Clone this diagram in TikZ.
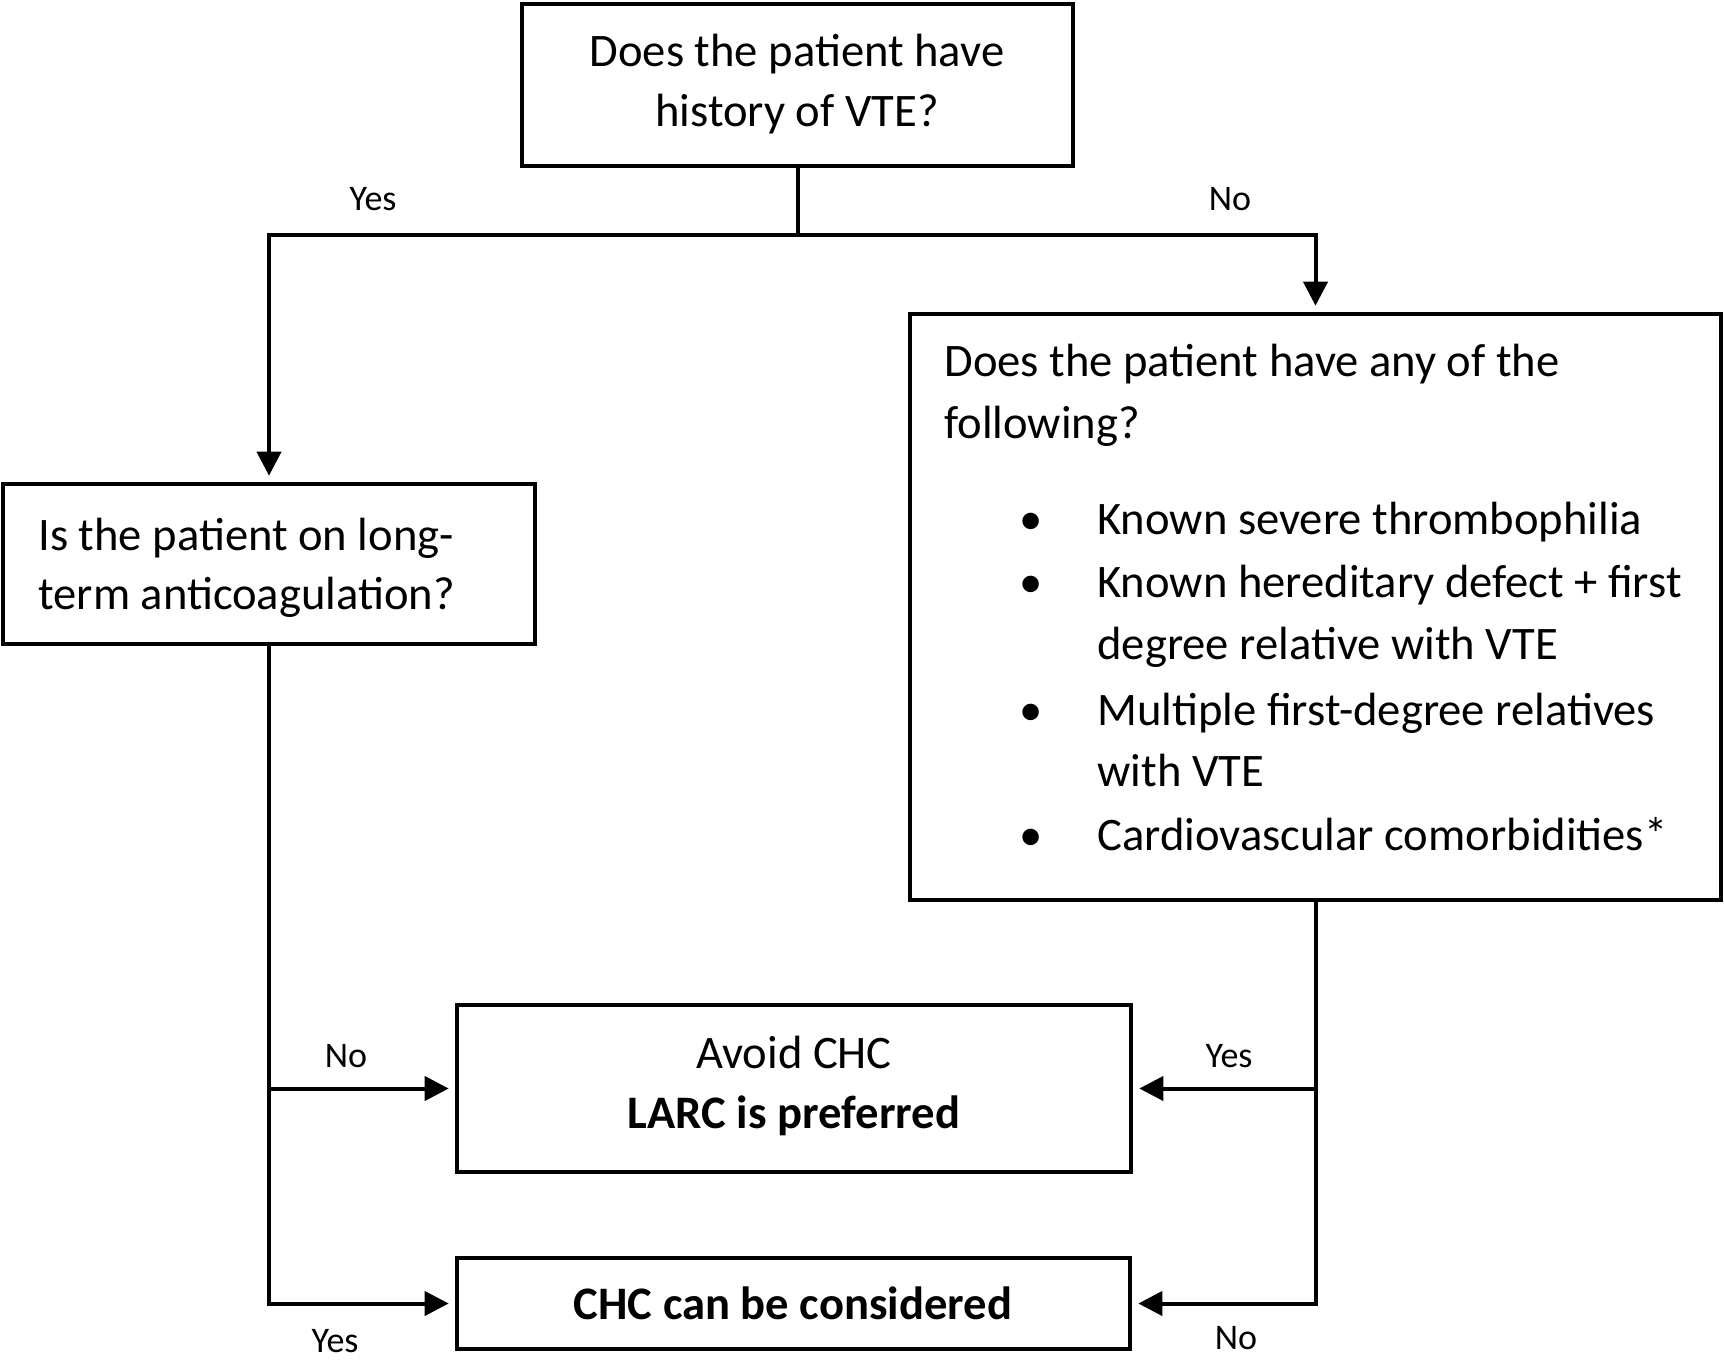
\documentclass[tikz,border=0pt]{standalone}
\usepackage{fontspec}
\setmainfont{Carlito}
\usetikzlibrary{arrows.meta}
\begin{document}
\begin{tikzpicture}[x=0.5pt,y=-0.5pt,
  box/.style={draw, line width=2.3pt, inner sep=0pt, fill=white},
  conn/.style={line width=2pt},
  arr/.style={conn, shorten >=3pt, -{Triangle[length=12pt,width=12pt]}},
  txt/.style={font=\fontsize{23.3}{30}\selectfont, inner sep=0pt, anchor=base},
  txtl/.style={txt, anchor=base west},
  lbl/.style={font=\fontsize{18}{22}\selectfont, inner sep=0pt, anchor=base},
]
\useasboundingbox (0,0) rectangle (1724,1360);
\fill[white] (0,0) rectangle (1724,1360);

% boxes
\node[box, minimum width=275.5pt, minimum height=81pt] (top) at (797.5,85) {};
\node[box, minimum width=266pt, minimum height=80pt] (lbox) at (269,564) {};
\node[box, minimum width=405.5pt, minimum height=293pt] (rbox) at (1315.5,607) {};
\node[box, minimum width=337pt, minimum height=83.5pt] (mid) at (794,1088.5) {};
\node[box, minimum width=336.5pt, minimum height=45.5pt] (bot) at (793.5,1303.5) {};

% connectors
\coordinate (j) at (797.5,235);
\draw[conn] (top.south) -- (j);
\draw[arr] (j) -| (lbox.north);
\draw[arr] (j) -| (rbox.north);
\draw[arr] (lbox.south) |- (bot.west);
\draw[arr] (lbox.south |- mid.west) -- (mid.west);
\draw[arr] (rbox.south) |- (bot.east);
\draw[arr] (rbox.south |- mid.east) -- (mid.east);

% labels
\node[lbl] (yes1) at (373,210) {Yes};
\node[lbl] (no1) at (1230,210) {No};
\node[lbl] (no2) at (346,1067) {No};
\node[lbl] (yes2) at (1229,1067) {Yes};
\node[lbl] (yes3) at (335,1352) {Yes};
\node[lbl] (no3) at (1236,1349) {No};

% texts
\node[txt] (t1) at (797,66) {Does the patient have};
\node[txt] (t2) at (797,126) {history of VTE?};

\node[txtl] (l1) at (38,550) {Is the patient on long-};
\node[txtl] (l2) at (38,609) {term anticoagulation?};

\node[txtl] (r1) at (944,376) {Does the patient have any of the};
\node[txtl] (r2) at (944,438) {following?};
\node[txt] (b1) at (1031,534) {•};
\node[txt] (b2) at (1031,597) {•};
\node[txt] (b3) at (1031,725) {•};
\node[txt] (b4) at (1031,850) {•};
\node[txtl] (i1) at (1097,534) {Known severe thrombophilia};
\node[txtl] (i2) at (1097,597) {Known hereditary defect + first};
\node[txtl] (i2b) at (1097,659) {degree relative with VTE};
\node[txtl] (i3) at (1097,725) {Multiple first-degree relatives};
\node[txtl] (i3b) at (1097,786) {with VTE};
\node[txtl] (i4) at (1097,850) {Cardiovascular comorbidities*};

\node[txt] (m1) at (794,1068) {Avoid CHC};
\node[txt, font=\fontsize{23.3}{30}\selectfont\bfseries] (m2) at (794,1128) {LARC is preferred};
\node[txt, font=\fontsize{23.3}{30}\selectfont\bfseries] (c1) at (793,1319) {CHC can be considered};
\end{tikzpicture}
\end{document}
